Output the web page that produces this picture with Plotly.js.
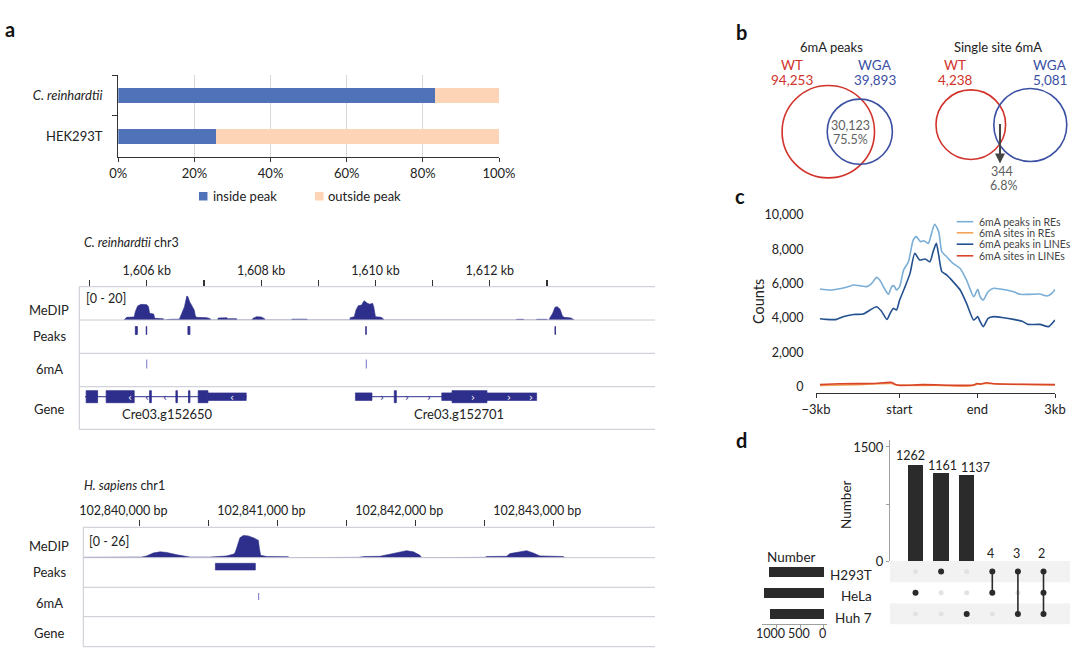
<!DOCTYPE html>
<html><head><meta charset="utf-8">
<script src="https://cdn.plot.ly/plotly-3.0.1.min.js"></script>
<style>html,body{margin:0;padding:0;background:#fff}#chart{width:1080px;height:655px}</style>
</head><body><div id="chart"></div>
<script>
// ---------------- DATA ----------------
// Panel a: bar chart
const barCategories = ['C. reinhardtii', 'HEK293T'];
const barCategoryLabels = ['<i>C. reinhardtii</i>', 'HEK293T'];
const insidePeakPct = [83.2, 25.7];
const outsidePeakPct = [16.8, 74.3];
const barTicks = [0, 20, 40, 60, 80, 100];
const barTickText = ['0%', '20%', '40%', '60%', '80%', '100%'];

// Panel a: C. reinhardtii chr3 browser track (kb)
const crTitle = '<i>C. reinhardtii</i> chr3';
const crTickKb = [1605, 1606, 1607, 1608, 1609, 1610, 1611, 1612, 1613];
const crTickText = ['', '1,606 kb', '', '1,608 kb', '', '1,610 kb', '', '1,612 kb', ''];
const crScale = '[0 - 20]';
const crMedipKb = [1605.60,1605.65,1605.78,1605.80,1605.84,1605.90,1606.00,1606.03,1606.05,1606.12,1606.14,1606.29,1606.30,
  1606.40,1606.41,1606.57,1606.60,1606.66,1606.70,1606.72,1606.75,1606.78,1606.83,1606.85,1606.87,1607.05,1607.11,1607.12,
  1607.24,1607.25,1607.40,1607.41,1607.57,1607.58,
  1607.83,1607.86,1607.92,1608.00,1608.06,1608.07,
  1608.53,1608.54,1608.80,1608.81,
  1609.55,1609.56,1609.63,1609.66,1609.70,1609.76,1609.80,1609.86,1609.90,1609.95,1609.97,1610.00,1610.10,1610.14,1610.15,
  1612.46,1612.47,1612.59,1612.60,
  1612.81,1612.82,1613.00,1613.01,
  1613.04,1613.05,1613.10,1613.14,1613.18,1613.23,1613.27,1613.30,1613.42,1613.47,1613.48];
const crMedipVal = [0,1.6,1.8,5,8.4,9.4,9.2,8.0,4.0,3.6,1.0,0.8,0,
  0,0.4,0.5,3,8,14.4,14,11,9,6,2.5,1.6,1.4,0.8,0,
  0,1.2,1.4,0.8,0.8,0,
  0,1.0,2.0,1.8,0.8,0,
  0,0.5,0.5,0,
  0,1.4,2,6,8.6,9,11.6,10,9.5,10,8,2,1.6,0.6,0,
  0,0.4,0.4,0,
  0,0.4,0.4,0,
  0,1.2,4,7.6,8.0,6.4,2.4,1.6,1.2,0.4,0];
const crPeakStart = [1605.800, 1605.990, 1606.720, 1609.830, 1613.140];
const crPeakEnd   = [1605.835, 1606.000, 1606.755, 1609.840, 1613.150];
const crSites6mA = [1606.00, 1609.84];
const crGeneNames = ['Cre03.g152650', 'Cre03.g152701'];
const crGeneStart = [1604.92, 1609.65];
const crGeneEnd = [1607.75, 1612.82];
const crGeneLabelKb = [1606.36, 1611.47];
const crExons = [[[1604.94,1605.14],[1605.29,1605.78],[1606.05,1606.08],[1606.51,1606.535],[1606.73,1606.755],[1606.90,1607.07]],
                 [[1610.33,1610.365],[1611.34,1611.95]]];
const crUtrs = [[[1607.07,1607.74]], [[1609.65,1609.94],[1611.16,1611.34],[1611.95,1612.82]]];
const crStrand = ['‹', '›'];
const crArrowKb = [[1605.70, 1606.01, 1606.32, 1607.49], [1610.11, 1610.55, 1610.93, 1611.70, 1612.33, 1612.72]];
const crArrowInside = [[true, false, false, true], [false, false, false, true, true, true]];

// Panel a: H. sapiens chr1 browser track (bp)
const hsTitle = '<i>H. sapiens</i> chr1';
const hsTickBp = [102840000,102840500,102841000,102841500,102842000,102842500,102843000];
const hsTickText = ['102,840,000 bp','','102,841,000 bp','','102,842,000 bp','','102,843,000 bp'];
const hsScale = '[0 - 26]';
const hsMedipBp = [102839594,102839981,102840017,102840053,102840101,102840150,102840198,102840271,102840331,102840367,
  102840512,102840633,102840680,102840693,102840705,102840729,102840754,102840790,102840826,102840862,102840870,102840879,
  102840923,102841080,102841085,
  102841475,102841478,102841587,102841635,102841744,102841816,102841889,102841937,102841986,102842034,102842046,
  102842272,102842275,102842505,102842517,102842662,102842686,102842758,102842807,102842855,102842903,102843072,102843084];
const hsMedipVal = [0.3,0.3,0.5,1.5,4,5,4.5,2.5,1,0.5,
  0.5,1.5,3,4,8,17,19,18.6,17,15,8,2,
  1,0.8,0,
  0,0.3,0.3,1,1.2,3,4.5,6,5,2,0,
  0,0.3,0.3,1,1.2,3.5,5,6,4,1.5,1,0];
const hsPeakStart = [102840551];
const hsPeakEnd = [102840841];
const hsSites6mA = [102840865];

const trackRowNames = ['MeDIP', 'Peaks', '6mA', 'Gene'];

// Panel b: Venn diagrams
const vennTitles = ['6mA peaks', 'Single site 6mA'];
const vennWT = ['94,253', '4,238'];
const vennWGA = ['39,893', '5,081'];
const vennOverlap = ['30,123', '344'];
const vennOverlapPct = ['75.5%', '6.8%'];

// Panel c: profile plot
const profileTickVals = [0, 104.6, 202.5, 300];
const profileTickText = ['\u22123kb', 'start', 'end', '3kb'];
const profileSeriesNames = ['6mA peaks in REs', '6mA sites in REs', '6mA peaks in LINEs', '6mA sites in LINEs'];
const peaksREsX = [5,18,30,38,47,55,64,70,76,80,87,91,95,98,101,105,110,116,122,126,131,135,141,145,149,154,158,164,172,181,189,198,203,206,210,216,223,231,239,248,256,268,281,290,296,300];
const peaksREsY = [5690,5630,5710,5790,5920,5880,5830,6020,6370,6210,5630,5380,5830,5880,5630,5830,6800,7280,8540,8740,8450,8500,8350,8930,9460,9030,7860,7570,7180,6890,6210,5240,5670,5240,5050,5530,5730,5690,5630,5530,5380,5380,5400,5280,5440,5670];
const peaksLINEsX = [5,13,26,34,47,59,68,76,82,89,93,97,101,105,111,118,124,130,137,143,147,151,154,158,164,172,181,189,198,203,206,210,216,223,235,248,260,266,281,292,300];
const peaksLINEsY = [3960,3920,3920,4080,4210,4230,4470,4660,4410,3920,4270,4560,4470,5050,5730,6600,7770,7380,7440,7280,7860,8350,7670,6700,6510,6120,5630,4850,3880,4080,3790,3500,3980,4080,4020,3920,3790,3630,3630,3500,3880];
const sitesREsX = [5,51,95,101,155,193,203,214,239,300];
const sitesREsY = [80,120,190,100,80,40,150,190,140,100];
const sitesLINEsX = [5,30,72,95,99,105,135,176,198,202,206,214,223,260,300];
const sitesLINEsY = [120,170,190,250,150,80,120,80,100,190,150,230,170,140,120];

// Panel d: UpSet plot
const setNames = ['H293T', 'HeLa', 'Huh 7'];
const intersectionSets = [['HeLa'], ['H293T'], ['Huh 7'], ['H293T','HeLa'], ['H293T','Huh 7'], ['H293T','HeLa','Huh 7']];
const intersectionCounts = [1262, 1161, 1137, 4, 3, 2];
const setSizeTicks = [0, 500, 1000];

// ---------------- HELPERS ----------------
const W = 1080, H = 655;
const X = p => p / W;
const Y = p => 1 - p / H;
const FONT = 'Lato, "Open Sans", sans-serif';
const NAVY = '#2e2e8c';
const TXT = '#222';
const annotations = [];
const shapes = [];
function ann(text, x, y, size, color, xanchor, extra) {
  annotations.push(Object.assign({text, x: X(x), y: Y(y), xref: 'paper', yref: 'paper', showarrow: false,
    font: {family: FONT, size: size || 13, color: color || TXT}, xanchor: xanchor || 'center', yanchor: 'middle'}, extra || {}));
}
function hline(x0, x1, y, color, w) {
  shapes.push({type: 'line', xref: 'paper', yref: 'paper', x0: X(x0), x1: X(x1), y0: Y(y), y1: Y(y), line: {color, width: w || 1}});
}
function vline(x, y0, y1, color, w) {
  shapes.push({type: 'line', xref: 'paper', yref: 'paper', x0: X(x), x1: X(x), y0: Y(y0), y1: Y(y1), line: {color, width: w || 1}});
}

const traces = [];

// ---------------- PANEL A : BARS ----------------
traces.push({type: 'bar', orientation: 'h', y: barCategories, x: insidePeakPct, name: 'inside peak',
  marker: {color: '#4f72b9'}, width: 0.38, xaxis: 'x', yaxis: 'y', hoverinfo: 'x'});
traces.push({type: 'bar', orientation: 'h', y: barCategories, x: outsidePeakPct, name: 'outside peak',
  marker: {color: '#fdd5b6'}, width: 0.38, xaxis: 'x', yaxis: 'y', hoverinfo: 'x'});
shapes.push({type: 'rect', xref: 'paper', yref: 'paper', x0: X(199), x1: X(207.5), y0: Y(200.5), y1: Y(192), fillcolor: '#4f72b9', line: {width: 0}});
shapes.push({type: 'rect', xref: 'paper', yref: 'paper', x0: X(315), x1: X(323.5), y0: Y(200.5), y1: Y(192), fillcolor: '#fdd5b6', line: {width: 0}});
ann('inside peak', 210.5, 196, 13, TXT, 'left');
ann('outside peak', 326, 196, 13, TXT, 'left');
ann('<b>a</b>', 10, 29, 20, '#111');

// ---------------- PANEL A : TRACK 1 ----------------
ann(crTitle, 81.5, 243, 12.5, TXT, 'left');
const cr = {top: 286.7, medip: 320, peaks: 353.3, sites: 386.7, bottom: 429.3, left: 79.3, right: 655};
[cr.top, cr.medip, cr.peaks, cr.sites, cr.bottom].forEach(y => hline(cr.left, cr.right, y, '#c8c8d2', 1));
vline(cr.left, cr.top, cr.bottom, '#c8c8d2', 1);
ann(crScale, 83.5, 298, 12.5, TXT, 'left');
[310, 336, 369, 409].forEach((y, i) => ann(trackRowNames[i], 49, y, 13, TXT, 'center'));
traces.push({type: 'scatter', mode: 'lines', x: crMedipKb, y: crMedipVal, xaxis: 'x2', yaxis: 'y2', fill: 'tozeroy',
  line: {color: NAVY, width: 0.6}, fillcolor: NAVY, hoverinfo: 'skip'});
crPeakStart.forEach((s, i) => shapes.push({type: 'rect', xref: 'x2', yref: 'paper', x0: s, x1: crPeakEnd[i],
  y0: Y(334.5), y1: Y(326.5), fillcolor: NAVY, line: {color: NAVY, width: 0.8}}));
crSites6mA.forEach(s => shapes.push({type: 'line', xref: 'x2', yref: 'paper', x0: s, x1: s, y0: Y(368.5), y1: Y(359.5),
  line: {color: '#7272c6', width: 1}}));
const geneY = 396.7;
crGeneNames.forEach((g, gi) => {
  shapes.push({type: 'line', xref: 'x2', yref: 'paper', x0: crGeneStart[gi], x1: crGeneEnd[gi], y0: Y(geneY), y1: Y(geneY), line: {color: NAVY, width: 1}});
  crUtrs[gi].forEach(u => shapes.push({type: 'rect', xref: 'x2', yref: 'paper', x0: u[0], x1: u[1], y0: Y(geneY + 3.8), y1: Y(geneY - 3.8), fillcolor: NAVY, line: {color: NAVY, width: 0.6}}));
  crExons[gi].forEach(e => shapes.push({type: 'rect', xref: 'x2', yref: 'paper', x0: e[0], x1: e[1], y0: Y(geneY + 6), y1: Y(geneY - 6), fillcolor: NAVY, line: {color: NAVY, width: 0.8}}));
  crArrowKb[gi].forEach((a, ai) => annotations.push({text: crStrand[gi], x: a, y: Y(geneY + 0.8), xref: 'x2', yref: 'paper', showarrow: false,
    font: {family: 'DejaVu Sans', size: 10, color: crArrowInside[gi][ai] ? '#ffffff' : NAVY}, xanchor: 'center', yanchor: 'middle'}));
  annotations.push({text: g, x: crGeneLabelKb[gi], y: Y(414), xref: 'x2', yref: 'paper', showarrow: false,
    font: {family: FONT, size: 13, color: TXT}, xanchor: 'center', yanchor: 'middle'});
});

// ---------------- PANEL A : TRACK 2 ----------------
ann(hsTitle, 81.5, 485, 12.5, TXT, 'left');
const hs = {top: 527.3, medip: 557.7, peaks: 587.3, sites: 616.7, bottom: 646.7, left: 83.3, right: 655};
[hs.top, hs.medip, hs.peaks, hs.sites, hs.bottom].forEach(y => hline(hs.left, hs.right, y, '#c8c8d2', 1));
vline(hs.left, hs.top, hs.bottom, '#c8c8d2', 1);
ann(hsScale, 86.5, 541, 12.5, TXT, 'left');
[546, 572, 603, 633].forEach((y, i) => ann(trackRowNames[i], 49, y, 13, TXT, 'center'));
traces.push({type: 'scatter', mode: 'lines', x: hsMedipBp, y: hsMedipVal, xaxis: 'x3', yaxis: 'y3', fill: 'tozeroy',
  line: {color: NAVY, width: 0.6}, fillcolor: NAVY, hoverinfo: 'skip'});
hsPeakStart.forEach((s, i) => shapes.push({type: 'rect', xref: 'x3', yref: 'paper', x0: s, x1: hsPeakEnd[i],
  y0: Y(570), y1: Y(563.3), fillcolor: NAVY, line: {color: NAVY, width: 0.6}}));
hsSites6mA.forEach(s => shapes.push({type: 'line', xref: 'x3', yref: 'paper', x0: s, x1: s, y0: Y(600), y1: Y(593),
  line: {color: '#7272c6', width: 1}}));

// ---------------- PANEL B : VENN ----------------
ann('<b>b</b>', 741, 32, 20, '#111');
const RED = '#d1332b', BLUE = '#3b50a3', GRAY = '#5f5f5f';
function circ(cx, cy, r, color) {
  shapes.push({type: 'circle', xref: 'paper', yref: 'paper', x0: X(cx - r), x1: X(cx + r), y0: Y(cy + r), y1: Y(cy - r),
    line: {color, width: 1.6}, fillcolor: 'rgba(0,0,0,0)'});
}
circ(828.3, 131.7, 46.2, RED);
circ(859.8, 131.7, 32.6, BLUE);
circ(970.8, 124.7, 34.8, RED);
circ(1030.3, 125, 36.5, BLUE);
ann(vennTitles[0], 831.5, 46.5, 13, TXT);
ann(vennTitles[1], 998, 46.5, 13, TXT);
ann('WT', 791.5, 65, 13.5, RED); ann(vennWT[0], 791.5, 80, 13.5, RED);
ann('WGA', 875, 65, 13.5, BLUE); ann(vennWGA[0], 875, 80, 13.5, BLUE);
ann(vennOverlap[0], 850, 125.5, 12.5, GRAY); ann(vennOverlapPct[0], 850, 139, 12.5, GRAY);
ann('WT', 955, 65, 13.5, RED); ann(vennWT[1], 955, 80, 13.5, RED);
ann('WGA', 1050, 65, 13.5, BLUE); ann(vennWGA[1], 1050, 80, 13.5, BLUE);
ann(vennOverlap[1], 1001.5, 171, 12.5, GRAY); ann(vennOverlapPct[1], 1003, 185, 12.5, GRAY);
annotations.push({text: '', x: X(1000), y: Y(163.5), xref: 'paper', yref: 'paper', ax: 0, ay: -41, axref: 'pixel', ayref: 'pixel',
  showarrow: true, arrowhead: 2, arrowsize: 1, arrowwidth: 2, arrowcolor: '#444'});

// ---------------- PANEL C : PROFILE ----------------
ann('<b>c</b>', 740, 196, 20, '#111');
const cColors = ['#7aaed6', '#f4a35a', '#23508f', '#d8452a'];
traces.push({type: 'scatter', mode: 'lines', x: peaksREsX, y: peaksREsY, xaxis: 'x4', yaxis: 'y4', line: {color: cColors[0], width: 1.6, shape: 'spline', smoothing: 0.6}, hoverinfo: 'skip'});
traces.push({type: 'scatter', mode: 'lines', x: peaksLINEsX, y: peaksLINEsY, xaxis: 'x4', yaxis: 'y4', line: {color: cColors[2], width: 1.6, shape: 'spline', smoothing: 0.6}, hoverinfo: 'skip'});
traces.push({type: 'scatter', mode: 'lines', x: sitesREsX, y: sitesREsY, xaxis: 'x4', yaxis: 'y4', line: {color: cColors[1], width: 1.6, shape: 'spline', smoothing: 0.6}, hoverinfo: 'skip'});
traces.push({type: 'scatter', mode: 'lines', x: sitesLINEsX, y: sitesLINEsY, xaxis: 'x4', yaxis: 'y4', line: {color: cColors[3], width: 1.6, shape: 'spline', smoothing: 0.6}, hoverinfo: 'skip'});
[221.7, 232.8, 244.2, 255.8].forEach((y, i) => {
  hline(956.7, 973.3, y, cColors[i], 1.6);
  ann(profileSeriesNames[i], 976.5, y, 10.5, '#444', 'left');
});
ann('Counts', 758, 302, 14.5, TXT, 'center', {textangle: -90});

// ---------------- PANEL D : UPSET ----------------
ann('<b>d</b>', 741, 440, 20, '#111');
const DARK = '#2b2b2b';
traces.push({type: 'bar', x: intersectionCounts.map((_, i) => i), y: intersectionCounts,
  marker: {color: DARK}, width: 0.6, xaxis: 'x5', yaxis: 'y5', hoverinfo: 'y'});
// count labels (staggered slightly as in the reference)
const cntDx = [-4.7, 1.3, 9.2, -1.4, -1.2, -1.8];
const cntDy = [10, 7.6, 6.7, 7.4, 7.4, 7.4];
intersectionCounts.forEach((c, i) => annotations.push({text: String(c), x: i, y: c, xref: 'x5', yref: 'y5', showarrow: false,
  xshift: cntDx[i], yshift: cntDy[i], xanchor: 'center', yanchor: 'middle', font: {family: FONT, size: 12.5, color: TXT}}));
const inX = [], inY = [], outX = [], outY = [], lnX = [], lnY = [];
intersectionSets.forEach((sets, ci) => {
  const rows = [];
  setNames.forEach((s, ri) => {
    if (sets.includes(s)) { inX.push(ci); inY.push(ri); rows.push(ri); } else { outX.push(ci); outY.push(ri); }
  });
  if (rows.length > 1) { lnX.push(ci, ci, null); lnY.push(Math.min(...rows), Math.max(...rows), null); }
});
[-0.5, 1.5].forEach(y0 => shapes.push({type: 'rect', xref: 'paper', yref: 'y6', x0: X(890), x1: X(1070), y0, y1: y0 + 1,
  fillcolor: '#f2f2f2', line: {width: 0}, layer: 'below'}));
traces.push({type: 'scatter', mode: 'markers', x: outX, y: outY, xaxis: 'x5', yaxis: 'y6', marker: {color: '#e2e2e2', size: 5}, hoverinfo: 'skip'});
traces.push({type: 'scatter', mode: 'lines', x: lnX, y: lnY, xaxis: 'x5', yaxis: 'y6', line: {color: DARK, width: 1.6}, hoverinfo: 'skip'});
traces.push({type: 'scatter', mode: 'markers', x: inX, y: inY, xaxis: 'x5', yaxis: 'y6', marker: {color: DARK, size: 6}, hoverinfo: 'skip'});
const setSizes = setNames.map(s => intersectionSets.reduce((acc, sets, i) => acc + (sets.includes(s) ? intersectionCounts[i] : 0), 0));
traces.push({type: 'bar', orientation: 'h', y: setNames.map((_, i) => i), x: setSizes, xaxis: 'x7', yaxis: 'y6',
  marker: {color: DARK}, width: 0.47, hoverinfo: 'x'});
setNames.forEach((s, i) => annotations.push({text: s, x: X(873.5), y: i, xref: 'paper', yref: 'y6', yshift: -3.5, showarrow: false,
  xanchor: 'right', yanchor: 'middle', font: {family: FONT, size: 13.5, color: TXT}}));
const setTickDx = [-1, -1, -6];
setSizeTicks.forEach((t, i) => annotations.push({text: String(t), x: t, y: Y(633.3), xref: 'x7', yref: 'paper', xshift: setTickDx[i],
  showarrow: false, xanchor: 'center', yanchor: 'middle', font: {family: FONT, size: 12.5, color: TXT}}));
ann('Number', 846, 505, 13.5, TXT, 'center', {textangle: -90});
ann('Number', 791.5, 556.5, 13.5, TXT, 'center');

// ---------------- LAYOUT ----------------
const noAxis = {visible: false, showgrid: false, zeroline: false, fixedrange: true};
const tf = (s, c) => ({family: FONT, size: s, color: c || TXT});
const layout = {
  width: W, height: H, margin: {l: 0, r: 0, t: 0, b: 0}, showlegend: false, barmode: 'stack',
  paper_bgcolor: '#ffffff', plot_bgcolor: 'rgba(0,0,0,0)', font: {family: FONT, color: TXT},
  xaxis: {domain: [X(118.3), X(499)], range: [0, 100], anchor: 'y', tickvals: barTicks, ticktext: barTickText,
    showgrid: true, gridcolor: '#d9d9d9', gridwidth: 1, zeroline: false, showline: true, linecolor: '#333', linewidth: 1.3,
    ticks: 'outside', ticklen: 4, tickcolor: '#333', tickfont: tf(13)},
  yaxis: {domain: [Y(156.7), Y(75)], type: 'category', autorange: 'reversed', anchor: 'x', tickvals: barCategories, ticktext: barCategoryLabels,
    tickson: 'boundaries', ticks: 'outside', ticklen: 5, tickcolor: '#333', showline: true, linecolor: '#333', linewidth: 1.3,
    showgrid: false, zeroline: false, tickfont: tf(13), ticklabelstandoff: 12},
  xaxis2: {domain: [X(79.3), X(655)], range: [1604.82, 1614.89], anchor: 'free', position: Y(285.5), side: 'top',
    tickvals: crTickKb, ticktext: crTickText, ticks: 'outside', ticklen: 6, tickcolor: '#333', tickwidth: 1.2,
    showline: false, showgrid: false, zeroline: false, tickfont: tf(12.5)},
  yaxis2: Object.assign({domain: [Y(cr.medip), Y(cr.top)], range: [0, 20], anchor: 'x2'}, noAxis),
  xaxis3: {domain: [X(83.3), X(655)], range: [102839594, 102843737], anchor: 'free', position: Y(526.3), side: 'top',
    tickvals: hsTickBp, ticktext: hsTickText, ticks: 'outside', ticklen: 6, tickcolor: '#333', tickwidth: 1.2, ticklabelshift: -16,
    showline: false, showgrid: false, zeroline: false, tickfont: tf(12.5)},
  yaxis3: Object.assign({domain: [Y(hs.medip), Y(hs.top)], range: [0, 26], anchor: 'x3'}, noAxis),
  xaxis4: {domain: [X(816), X(1055)], range: [0, 300], anchor: 'y4', tickvals: profileTickVals, ticktext: profileTickText,
    showline: true, linecolor: '#333', linewidth: 1.3, ticks: 'outside', ticklen: 4, tickcolor: '#333',
    showgrid: false, zeroline: false, tickfont: tf(13)},
  yaxis4: {domain: [Y(392.7), Y(213)], range: [-349, 10117], anchor: 'x4', tickvals: [0, 2000, 4000, 6000, 8000, 10000],
    tickformat: ',', showline: false, showgrid: false, zeroline: false, ticks: 'outside', ticklen: 9, tickcolor: 'rgba(0,0,0,0)', tickfont: tf(12.5)},
  xaxis5: Object.assign({domain: [X(890), X(1070)], range: [-0.996, 6.035], anchor: 'y5'}, noAxis),
  yaxis5: {domain: [Y(561), Y(440)], range: [0, 1592], anchor: 'x5', tickvals: [0, 750, 1500], ticktext: ['0', '', '1500'],
    showline: true, linecolor: '#a0a0a0', linewidth: 1, ticks: 'outside', ticklen: 3, tickcolor: '#a0a0a0',
    showgrid: false, zeroline: false, tickfont: tf(13)},
  yaxis6: Object.assign({domain: [Y(624.6), Y(561)], range: [2.5, -0.5], anchor: 'x5'}, noAxis),
  xaxis7: {domain: [X(761.7), X(827.3)], range: [1317, -70], anchor: 'free', position: Y(624), tickvals: setSizeTicks,
    showticklabels: false, showline: true, linecolor: '#a0a0a0', linewidth: 1, ticks: 'outside', ticklen: 3, tickcolor: '#a0a0a0',
    showgrid: false, zeroline: false},
  shapes, annotations
};
Plotly.newPlot('chart', traces, layout, {staticPlot: true, displayModeBar: false});
</script></body></html>
